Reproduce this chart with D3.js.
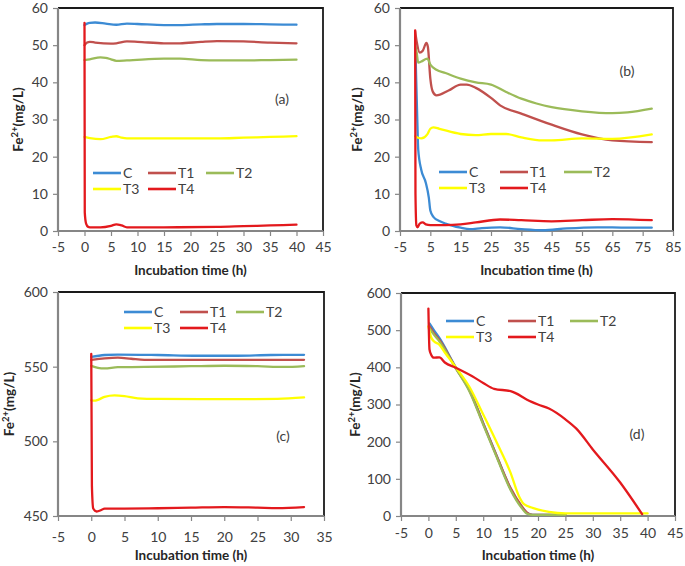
<!DOCTYPE html>
<html><head><meta charset="utf-8">
<script src="https://cdn.jsdelivr.net/npm/d3@7"></script>
<style>
body{margin:0;background:#fff;}
svg{display:block;font-family:Lato,"Open Sans",sans-serif;}
</style></head>
<body><svg id="chart" width="685" height="566"></svg>
<script>
// ---------- data ----------
const seriesNames = ["C","T1","T2","T3","T4"];
const seriesColors = ["#3c8bd4","#c0504d","#9bbb59","#ffff00","#e3191d"];

const A_C  = [[0,55.4],[0.5,55.8],[1,56.0],[2,56.1],[4,55.8],[6,55.5],[8,55.8],[10,55.7],[15,55.4],[18,55.4],[22,55.6],[25,55.7],[30,55.7],[35,55.6],[40,55.5]];
const A_T1 = [[0,50.0],[0.5,50.7],[1,50.9],[2,50.7],[5,50.4],[6,50.5],[8,51.0],[10,50.9],[15,50.5],[18,50.5],[22,50.9],[25,51.1],[30,51.0],[35,50.7],[40,50.5]];
const A_T2 = [[0,46.0],[1,46.2],[3,46.7],[4,46.6],[5,46.2],[6,45.8],[8,45.9],[15,46.4],[18,46.4],[22,46.0],[25,45.9],[30,45.9],[35,46.0],[40,46.1]];
const A_T3 = [[0,25.3],[1,25.0],[3,24.7],[5,25.3],[6,25.5],[7,25.1],[8,24.9],[15,24.9],[25,24.9],[30,25.1],[35,25.3],[40,25.5]];
const A_T4 = [[0,56],[0.05,5],[0.3,2],[0.7,1.1],[1,1.0],[3,1.0],[5,1.4],[6,1.8],[7,1.5],[8,1.0],[15,1.0],[25,1.1],[30,1.3],[35,1.5],[40,1.7]];

const B_C  = [[0,52],[0.3,42],[0.7,30],[1,22],[2,16.5],[3.5,13],[4.5,9],[5,5.5],[6,3.8],[8,2.7],[10,2.0],[15,0.9],[18,0.5],[22,0.8],[28,1.0],[35,0.5],[42,0.2],[50,0.7],[60,1.0],[70,0.9],[78,0.9]];
const B_T1 = [[0,53.7],[0.5,51],[1.5,48],[2.5,48.5],[3.7,50.6],[4.2,49.5],[5,41],[5.8,37.5],[7,36.5],[11,37.8],[15,39.4],[17,39.4],[20,38.5],[25,35.8],[28,33.8],[35,31.6],[45,28.6],[55,26],[65,24.4],[78,23.9]];
const B_T2 = [[0,50],[0.5,48],[1,45.3],[2,45.6],[4,46.4],[5,44.8],[7,43.4],[10,42.5],[15,41.0],[20,40.0],[25,39.4],[30,37.4],[35,35.6],[40,34.3],[45,33.3],[55,32.2],[65,31.7],[70,31.9],[78,32.9]];
const B_T3 = [[0,25.5],[1,25.1],[2,24.9],[4,26.0],[5,27.5],[6,27.9],[8,27.5],[15,26.1],[20,25.8],[25,26.1],[30,26.1],[35,25.2],[42,24.4],[45,24.4],[55,24.9],[65,24.8],[78,26.0]];
const B_T4 = [[0,54],[0.1,10],[0.4,1.5],[0.8,1.0],[1.5,2.0],[2.5,2.3],[3.5,1.8],[5,1.6],[10,1.6],[15,1.8],[20,2.3],[28,3.1],[35,2.9],[45,2.6],[55,2.9],[65,3.2],[78,2.9]];

const C_C  = [[0,556.5],[2,557.8],[4,558.1],[10,557.8],[16,557.3],[22,557.3],[27,557.8],[32,557.9]];
const C_T1 = [[0,554.5],[2,555.5],[4,556.0],[6,555.3],[8,554.6],[15,554.5],[20,554.6],[25,554.6],[32,554.6]];
const C_T2 = [[0,550.5],[1,549.2],[2,548.8],[4,549.7],[8,549.8],[15,550.3],[20,550.6],[25,550.3],[29,549.8],[32,550.4]];
const C_T3 = [[0,527.5],[0.5,527.2],[1,527.8],[2,529.8],[3.5,530.8],[5,530.3],[7,528.8],[10,528.4],[20,528.2],[28,528.4],[32,529.4]];
const C_T4 = [[0,558.5],[0.1,470],[0.3,455],[0.8,453],[1.5,454],[2,455],[5,455],[10,455.2],[15,455.6],[20,456],[25,455.6],[28,455.3],[32,456]];

const D_C  = [[0.2,518],[1,500],[2,479],[5,400],[7.5,340],[10,250],[12.5,160],[15,73],[17,25],[18,8],[19,3],[22,3],[25,3]];
const D_T1 = [[0.2,510],[1,492],[2,474],[5,398],[7.5,338],[10,249],[12.5,160],[15,75],[17,27],[18,9],[19,3],[22,3],[25,3]];
const D_T2 = [[0.2,505],[1,488],[2,470],[5,397],[7.5,335],[10,246],[12.5,157],[15,70],[17,22],[18,6],[19,3],[22,3],[25,3]];
const D_T3 = [[0,510],[0.5,481],[1,470],[2,461],[3,440],[5,400],[7.5,347],[10,273],[12.5,197],[15,116],[16.5,54],[17.5,31],[19,22],[22,11],[25,7],[30,7],[35,7],[40,7]];
const D_T4 = [[0,558],[0.2,448],[0.5,434],[1,426],[2,427],[3,413],[5,399],[8,376],[10,358],[12,342],[15,336],[16,330],[18,313],[20,300],[22,289],[25,260],[27,235],[30,179],[35,90],[39,5]];

const A_xTicks = [-5,0,5,10,15,20,25,30,35,40,45];
const A_yTicks = [0,10,20,30,40,50,60];
const B_xTicks = [-5,5,15,25,35,45,55,65,75,85];
const B_yTicks = [0,10,20,30,40,50,60];
const C_xTicks = [-5,0,5,10,15,20,25,30,35];
const C_yTicks = [450,500,550,600];
const D_xTicks = [-5,0,5,10,15,20,25,30,35,40,45];
const D_yTicks = [0,100,200,300,400,500,600];

const panelLabels = ["(a)","(b)","(c)","(d)"];
const xTitle = "Incubation time (h)";

// ---------- layout ----------
const panels = [
  {label:panelLabels[0], series:[A_C,A_T1,A_T2,A_T3,A_T4], xTicks:A_xTicks, yTicks:A_yTicks,
   x0:58, x1:323, y0:8, y1:231, labOff:18, lab:[282,104], leg:{x:93, y:173, dx:[0,55,113]}, yt:18},
  {label:panelLabels[1], series:[B_C,B_T1,B_T2,B_T3,B_T4], xTicks:B_xTicks, yTicks:B_yTicks,
   x0:400, x1:673, y0:8, y1:231, labOff:18, lab:[627,76], leg:{x:439, y:172, dx:[0,61,125]}, yt:357},
  {label:panelLabels[2], series:[C_C,C_T1,C_T2,C_T3,C_T4], xTicks:C_xTicks, yTicks:C_yTicks,
   x0:58, x1:324, y0:292, y1:516, labOff:23, lab:[283,441], leg:{x:124, y:312, dx:[0,56,112]}, yt:9},
  {label:panelLabels[3], series:[D_C,D_T1,D_T2,D_T3,D_T4], xTicks:D_xTicks, yTicks:D_yTicks,
   x0:401, x1:675, y0:293, y1:516, labOff:19, lab:[637,439], leg:{x:446, y:321, dx:[0,62,124]}, yt:355}
];

const svg = d3.select("#chart");
const axisGray = "#868686";
const textGray = "#404040";
const fmt = d => String(d);

panels.forEach(p => {
  const xs = d3.scaleLinear().domain(d3.extent(p.xTicks)).range([p.x0, p.x1]);
  const ys = d3.scaleLinear().domain(d3.extent(p.yTicks)).range([p.y1, p.y0]);
  const g = svg.append("g");

  // top & right frame
  g.append("path").attr("d", `M${p.x0},${p.y0}H${p.x1}V${p.y1}`)
    .attr("fill","none").attr("stroke","#1a1a1a").attr("stroke-width",1.8);

  // axes
  const xa = g.append("g").attr("transform",`translate(0,${p.y1})`)
    .call(d3.axisBottom(xs).tickValues(p.xTicks).tickSize(5).tickPadding(p.labOff-12).tickFormat(fmt));
  const ya = g.append("g").attr("transform",`translate(${p.x0},0)`)
    .call(d3.axisLeft(ys).tickValues(p.yTicks).tickSize(5).tickPadding(5).tickFormat(fmt));
  [xa,ya].forEach(a=>{
    a.select(".domain").attr("stroke",axisGray).attr("stroke-width",2.2);
    a.selectAll(".tick line").attr("stroke",axisGray).attr("stroke-width",1.2);
    a.selectAll(".tick text").attr("fill",textGray).style("font-size","14px").style("font-family","Lato");
  });
  xa.select(".domain").attr("d",`M${p.x0-1},0H${p.x1}`);
  ya.select(".domain").attr("d",`M0,${p.y0}V${p.y1+1}`);

  // lines
  const line = d3.line().x(d=>xs(d[0])).y(d=>ys(d[1])).curve(d3.curveMonotoneX);
  p.series.forEach((s,i)=>{
    g.append("path").datum(s).attr("d",line).attr("fill","none")
      .attr("stroke",seriesColors[i]).attr("stroke-width",2.3)
      .attr("stroke-linejoin","round").attr("stroke-linecap","round");
  });

  // legend
  seriesNames.forEach((n,i)=>{
    const row = i<3?0:1, col = i<3?i:i-3;
    const lx = p.leg.x + p.leg.dx[col], ly = p.leg.y + row*16;
    g.append("line").attr("x1",lx).attr("x2",lx+28).attr("y1",ly).attr("y2",ly)
      .attr("stroke",seriesColors[i]).attr("stroke-width",2.6);
    g.append("text").attr("x",lx+30).attr("y",ly+5).text(n)
      .attr("fill",textGray).style("font-size","14px");
  });

  // panel label
  g.append("text").attr("x",p.lab[0]).attr("y",p.lab[1]).attr("text-anchor","middle")
    .text(p.label).attr("fill",textGray).style("font-size","14px");

  // x title
  g.append("text").attr("x",(p.x0+p.x1)/2).attr("y",p.y1+44).attr("text-anchor","middle")
    .text(xTitle).attr("fill","#262626").style("font-size","13.5px").style("font-weight","bold");

  // y title
  const yc = (p.y0+p.y1)/2;
  const yt = g.append("text").attr("transform",`translate(${p.yt+5},${yc}) rotate(-90)`)
    .attr("text-anchor","middle").attr("fill","#262626").style("font-size","13.5px").style("font-weight","bold");
  yt.append("tspan").text("Fe");
  yt.append("tspan").text("2+").attr("dy",-5).style("font-size","9.5px");
  yt.append("tspan").text("(mg/L)").attr("dy",5);
});
</script>
</body></html>
